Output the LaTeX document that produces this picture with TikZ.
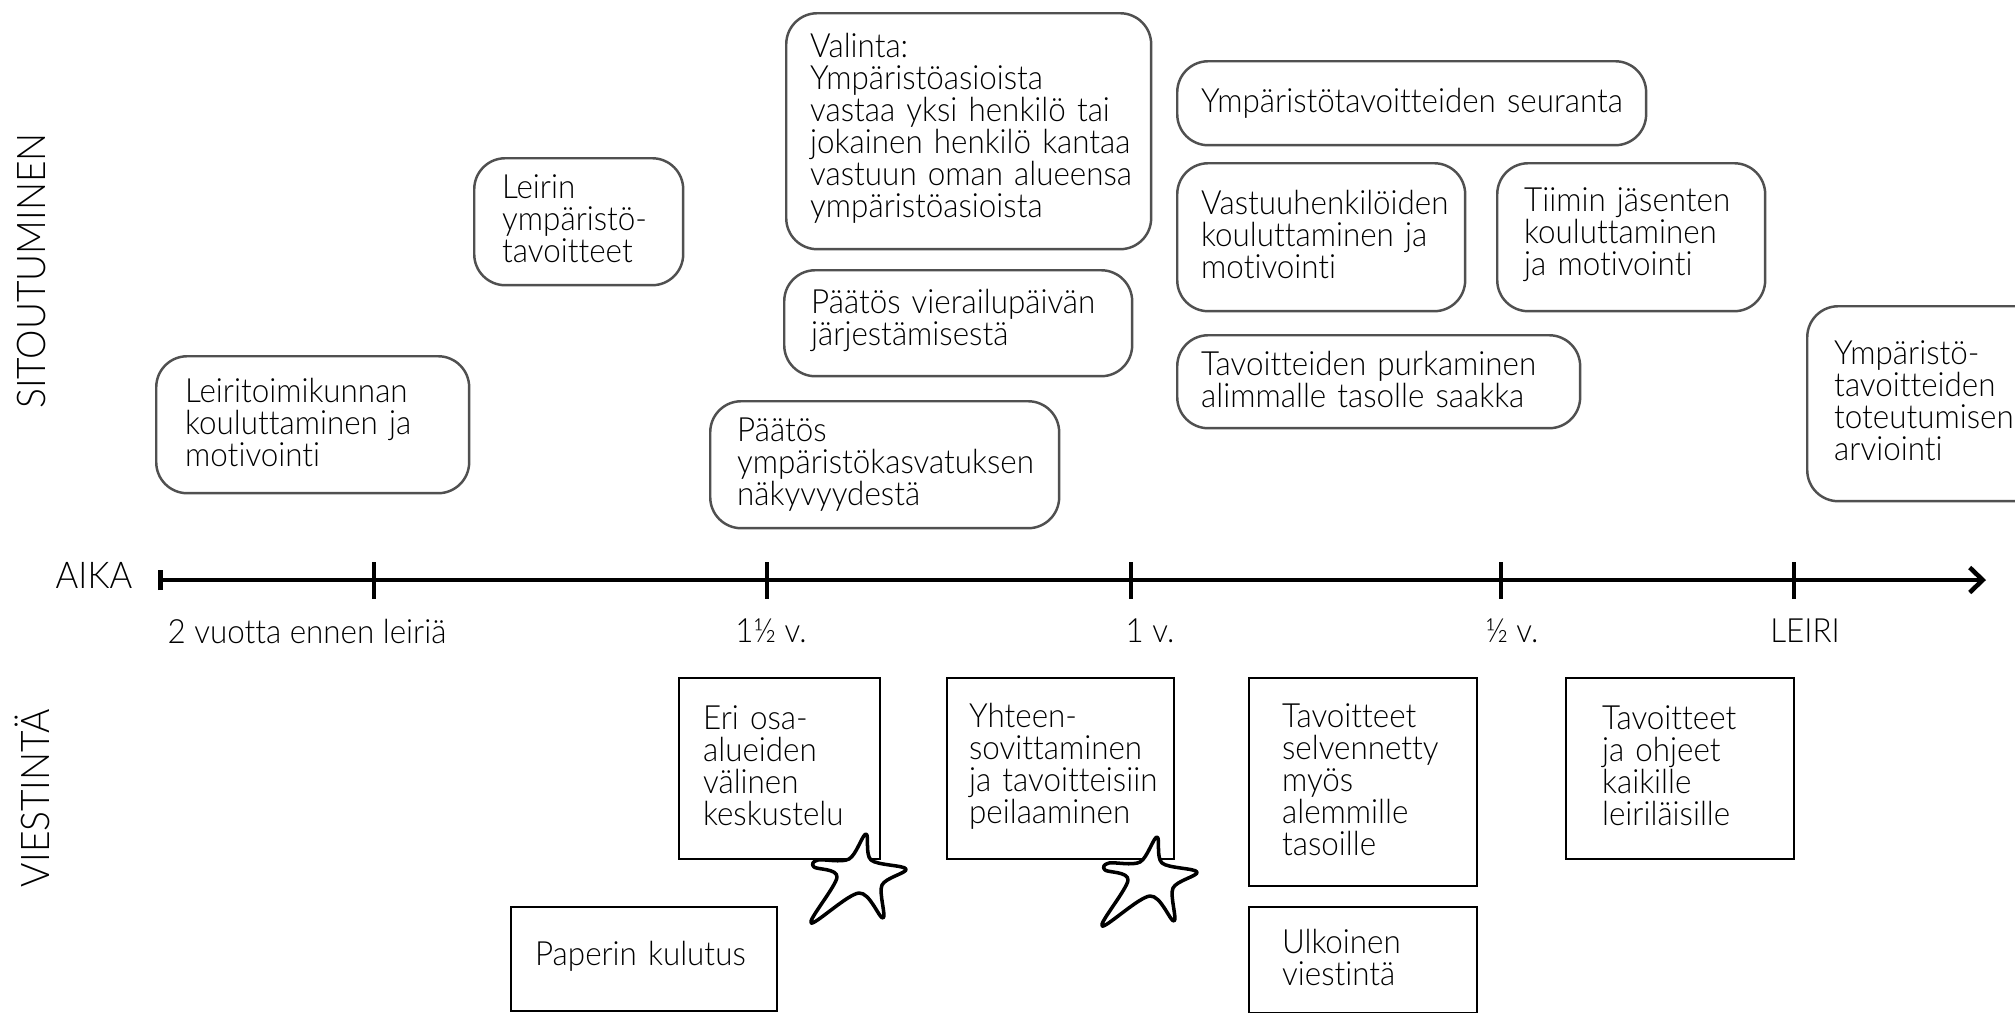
\documentclass[tikz,border=0pt]{standalone}
\usepackage{fontspec}
\usepackage{xcolor}
\usepackage{tikz}
\usetikzlibrary{arrows.meta}
\setmainfont[UprightFont=* Light, Ligatures=NoCommon, FakeStretch=0.94]{Lato}
\lefthyphenmin=62
\definecolor{reuna}{HTML}{505050}
\tikzset{
    teksti/.style={font=\fontsize{19}{18.2}\selectfont, inner sep=0pt},
    laatikko/.style={teksti, anchor=north west, align=left},
    ylos/.style={execute at end node={\par\vspace*{3pt}}},
    pyorea/.style={laatikko, draw=reuna, line width=1.4pt, rounded corners=0.62cm, fill=white},
    kulmikas/.style={laatikko, draw=black, line width=1.3pt},
    asteikko/.style={teksti, anchor=center},
    otsikko/.style={teksti, rotate=90, anchor=center, font=\fontsize{22.5}{20}\selectfont},
    tahti/.style={draw=black, fill=white, line width=2pt, line join=round}
}
\newcommand{\meritahti}[2]{
    \draw[tahti, shift={(#1,#2)}] plot[smooth cycle, tension=0.55] coordinates {(866,834) (871,860) (906,869) (882,885) (883,918) (859,893) (811,923) (837,877) (814,867) (818,860) (849,859)};
}
\begin{document}
\begin{tikzpicture}[x=0.02cm, y=-0.02cm]
        \useasboundingbox (0,0) rectangle (2015,1012);
        % sitoutuminen
        \node[pyorea, ylos, inner xsep=0.48cm, text width=6.34cm, minimum height=4.72cm] (valinta) at (785,12) {Valinta:\\Ympäristöasioista\\vastaa~yksi~henkilö~tai\\jokainen~henkilö~kantaa\\vastuun~oman~alueensa\\ympäristöasioista};
        \node[pyorea, ylos, inner xsep=0.56cm, text width=3.06cm, minimum height=2.54cm] (leirin) at (473,157) {Leirin\\ympäristö-\\tavoitteet};
        \node[pyorea, ylos, inner xsep=0.58cm, text width=5.1cm, minimum height=2.74cm] (toimikunta) at (155,355) {Leiritoimikunnan\\kouluttaminen ja\\motivointi};
        \node[pyorea, ylos, inner xsep=0.54cm, text width=5.88cm, minimum height=2.12cm] (vierailu) at (783,269) {Päätös vierailupäivän\\järjestämisestä};
        \node[pyorea, inner xsep=0.54cm, text width=5.9cm, minimum height=2.54cm] (nakyvyys) at (709,400) {Päätös\\ympäristökasvatuksen\\näkyvyydestä};
        \node[pyorea, inner xsep=0.48cm, text width=8.42cm, minimum height=1.68cm] (seuranta) at (1176,60) {Ympäristötavoitteiden~seuranta};
        \node[pyorea, ylos, inner xsep=0.48cm, text width=4.8cm, minimum height=2.96cm] (vastuu) at (1176,162) {Vastuuhenkilöiden\\kouluttaminen ja\\motivointi};
        \node[pyorea, ylos, inner xsep=0.54cm, text width=4.28cm, minimum height=2.96cm] (tiimi) at (1496,162) {Tiimin jäsenten\\kouluttaminen\\ja motivointi};
        \node[pyorea, ylos, inner xsep=0.48cm, text width=7.1cm, minimum height=1.86cm] (purku) at (1176,334) {Tavoitteiden purkaminen\\alimmalle tasolle saakka};
        \node[pyorea, ylos, inner xsep=0.54cm, text width=4.4cm, minimum height=3.9cm] (arviointi) at (1806,305) {Ympäristö-\\tavoitteiden\\toteutumisen\\arviointi};
        % aika-akseli
        \coordinate (alku) at (158,580);
        \coordinate (loppu) at (1986,580);
        \draw[line width=2.6pt, {Bar[width=0.4cm]}-{Straight Barb[length=0.26cm, width=0.5cm]}] (alku) -- (loppu);
        \foreach \x in {374,767,1131,1501,1794} {
            \draw[line width=2pt] (\x,562) -- (\x,599);
        }
        \node[asteikko, font=\fontsize{21}{20}\selectfont] (aika) at (94,575) {AIKA};
        \node[asteikko] (kaksi) at (307,631) {2 vuotta ennen leiriä};
        \node[asteikko] (puolitoista) at (771,631) {1½ v.};
        \node[asteikko] (yksi) at (1150,631) {1 v.};
        \node[asteikko] (puoli) at (1512,631) {½ v.};
        \node[asteikko] (leiri) at (1805,631) {LEIRI};
        \node[otsikko] (sitoutuminen) at (32,271) {SITOUTUMINEN};
        \node[otsikko] (viestinta) at (32,798) {VIESTINTÄ};
        % viestinta
        \node[kulmikas, ylos, inner xsep=0.48cm, text width=3.06cm, minimum height=3.62cm] (osa) at (678,677) {Eri osa-\\alueiden\\välinen\\keskustelu};
        \node[kulmikas, ylos, inner xsep=0.44cm, text width=3.66cm, minimum height=3.62cm] (yhteen) at (946,677) {Yhteen-\\sovittaminen\\ja~tavoitteisiin\\peilaaminen};
        \node[kulmikas, ylos, inner xsep=0.66cm, text width=3.24cm, minimum height=4.16cm] (selvennetty) at (1248,677) {Tavoitteet\\selvennetty\\myös\\alemmille\\tasoille};
        \node[kulmikas, ylos, inner xsep=0.72cm, text width=3.12cm, minimum height=3.62cm] (ohjeet) at (1565,677) {Tavoitteet\\ja ohjeet\\kaikille\\leiriläisille};
        \node[kulmikas, ylos, inner xsep=0.48cm, text width=4.36cm, minimum height=2.08cm] (paperi) at (510,906) {Paperin kulutus};
        \node[kulmikas, ylos, inner xsep=0.66cm, text width=3.24cm, minimum height=2.12cm] (ulkoinen) at (1248,906) {Ulkoinen\\viestintä};
        \meritahti{0}{0}
        \meritahti{291}{3}
    \end{tikzpicture}
\end{document}
